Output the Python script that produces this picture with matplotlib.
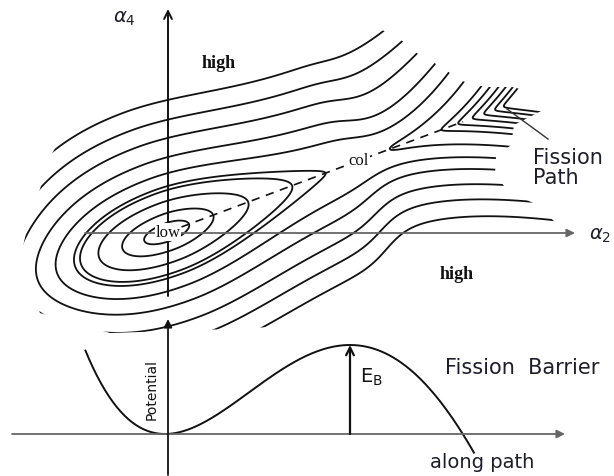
import numpy as np
import matplotlib
matplotlib.use("Agg")
import matplotlib.pyplot as plt
from matplotlib.patches import Polygon

# --- potential model (energies in units of the barrier E_B) ---
barrier_height = 1.0          # E_B, potential at the col
quartic_term = 0.59           # shapes the fall-off beyond the barrier
left_stretch = 0.8            # basin is wider on the compact side
valley_slope = 10.0           # rise of the potential across the valley
bowl_width = 0.25             # rounding of the valley floor up to the col
neck_width = 0.01             # rounding of the valley floor beyond the col
neck_center, neck_step = 1.10, 0.08
upper_lift, lift_reach = 0.16, 0.4   # softer upper slope past the col

# contour levels (same units)
basin_levels = [0.05, 0.2, 0.5, 0.85, 0.99]
valley_levels = [-1.6, -1.35, -1.05, -0.75, -0.4, -0.04, 0.74]
outer_levels = [1.5, 2.2, 3.1, 4.0, 5.0]

# range of the 1-D cut shown underneath
cut_start, cut_end = -0.43, 1.67


def barrier(s):
    c = quartic_term
    return barrier_height * ((3 + c) * s**2 - (2 + 2 * c) * s**3 + c * s**4)


def step_down(s, center, width):
    return 1.0 / (1.0 + np.exp((s - center) / width))


# --- layout (pixel space of the figure) ---
W, H = 614, 477
origin = (168, 233)      # "low"
path_angle = np.radians(20.5)
path_len = 180.0         # pixels from low to col
cut_origin = (165, 435)
cut_xscale, cut_yscale = 185.0, 89.0
ink = "#111111"
txt = "#1e1e2a"

fig = plt.figure(figsize=(W / 100, H / 100), dpi=100)
ax = fig.add_axes([0, 0, 1, 1])
ax.set_xlim(0, W)
ax.set_ylim(H, 0)
ax.axis("off")

# surface on a pixel grid
X, Y = np.meshgrid(np.arange(0, W, 1.0), np.arange(0, 360, 1.0))
dx = X - origin[0]
dy = origin[1] - Y
s = (dx * np.cos(path_angle) + dy * np.sin(path_angle)) / path_len
t = (-dx * np.sin(path_angle) + dy * np.cos(path_angle)) / path_len
s_eff = np.where(s < 0, s * left_stretch, s)
neck = step_down(s, neck_center, neck_step)
e = neck_width + (bowl_width - neck_width) * neck
V = (barrier(s_eff)
     + valley_slope * (np.sqrt(t**2 + e**2) - e)
     - valley_slope * upper_lift * (1 - neck) * (t > 0) * (1 - np.exp(-(t / lift_reach) ** 2)))

outline = Polygon([(70, 122), (372, 26), (400, 40), (418, 55), (438, 66), (462, 82),
                   (485, 88), (512, 88), (542, 95), (545, 110), (514, 126), (511, 146),
                   (496, 158), (495, 175), (507, 191), (537, 206), (556, 224),
                   (376, 312), (290, 327), (230, 330), (110, 334), (40, 314),
                   (20, 262), (30, 215), (40, 190), (48, 162)],
                  closed=True, transform=ax.transData, fill=False, edgecolor="none")
ax.add_patch(outline)

style = dict(colors=ink, linewidths=1.3, linestyles="solid")
sets = [
    ax.contour(X, Y, np.where(s < 1.0, V, np.nan), levels=basin_levels, **style),
    ax.contour(X, Y, np.where(s > 1.0, V, np.nan), levels=valley_levels, **style),
    ax.contour(X, Y, V, levels=outer_levels, **style),
]
for cs in sets:
    cs.set_clip_path(outline)

# fission path (valley floor)
sp = np.linspace(0.08, 1.75, 50)
ax.plot(origin[0] + sp * path_len * np.cos(path_angle),
        origin[1] - sp * path_len * np.sin(path_angle),
        color=ink, lw=1.2, dashes=(5, 4))

# axes of the deformation plane
arrow = dict(shrinkA=0, shrinkB=0)
ax.annotate("", xy=(168, 10), xytext=(168, 297),
            arrowprops=dict(arrowstyle="->", lw=1.4, color=ink, mutation_scale=14, **arrow))
ax.annotate("", xy=(575, 234), xytext=(85, 234),
            arrowprops=dict(arrowstyle="-|>", lw=1.3, color="#666666", mutation_scale=12, **arrow))

white = dict(facecolor="white", edgecolor="none", pad=0.5)
ax.text(124, 19, r"$\alpha_4$", fontsize=14, color=txt, ha="center", va="center")
ax.text(600, 236, r"$\alpha_2$", fontsize=14, color=txt, ha="center", va="center")
ax.text(219, 64, "high", fontsize=13, family="Liberation Serif", weight="bold", color=ink,
        ha="center", va="center")
ax.text(457, 275, "high", fontsize=13, family="Liberation Serif", weight="bold", color=ink,
        ha="center", va="center")
ax.text(359, 161, "col", fontsize=12, family="Liberation Serif", color=ink,
        ha="center", va="center", bbox=white)
ax.text(168, 233, "low", fontsize=12, family="Liberation Serif", color=ink,
        ha="center", va="center", bbox=white)
ax.text(533, 168, "Fission\nPath", fontsize=15, color=txt, ha="left", va="center", linespacing=0.95)
ax.plot([548, 507], [140, 110], color="#333333", lw=1.0)

# --- potential along the path ---
sc = np.linspace(cut_start, cut_end, 200)
ax.plot(cut_origin[0] + sc * cut_xscale, cut_origin[1] - cut_yscale * barrier(sc), color=ink, lw=1.4)
ax.annotate("", xy=(565, 435), xytext=(12, 435),
            arrowprops=dict(arrowstyle="-|>", lw=1.3, color="#666666", mutation_scale=12, **arrow))
ax.annotate("", xy=(168, 320), xytext=(168, 476),
            arrowprops=dict(arrowstyle="-|>", lw=1.3, color=ink, mutation_scale=12, **arrow))
peak_x = cut_origin[0] + cut_xscale
peak_y = cut_origin[1] - cut_yscale * barrier(1.0)
ax.annotate("", xy=(peak_x, peak_y), xytext=(peak_x, cut_origin[1]),
            arrowprops=dict(arrowstyle="->", lw=1.6, color=ink, mutation_scale=14, **arrow))
ax.text(152, 390, "Potential", fontsize=10, rotation=90, color=ink, ha="center", va="center")
ax.text(360, 377, r"$\mathregular{E_B}$", fontsize=14, color=ink, ha="left", va="center")
ax.text(445, 368, "Fission  Barrier", fontsize=15, color=txt, ha="left", va="center")
ax.text(430, 463, "along path", fontsize=14, color=txt, ha="left", va="center")

fig.savefig("out.png", dpi=100)
